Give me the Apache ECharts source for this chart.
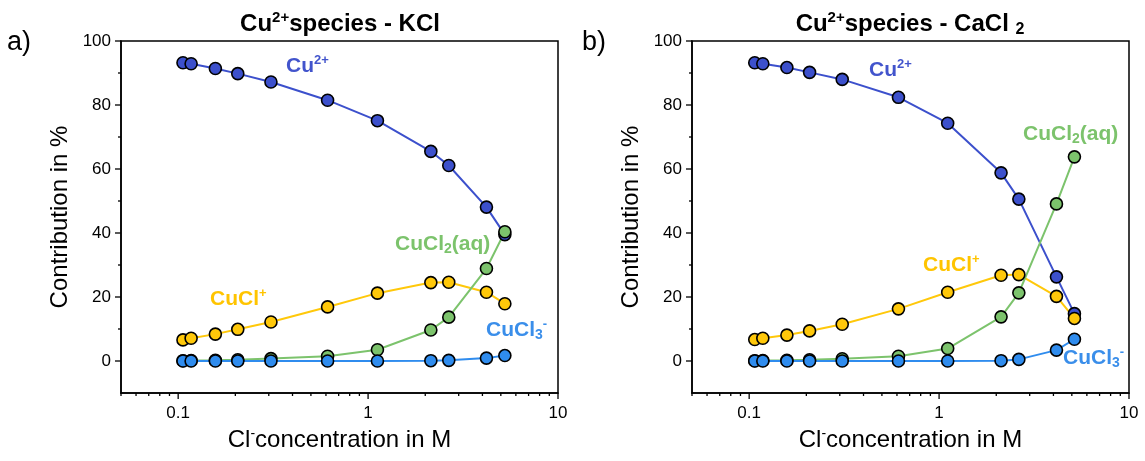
<!DOCTYPE html>
<html><head><meta charset="utf-8">
<script src="https://cdn.jsdelivr.net/npm/echarts@6/dist/echarts.min.js"></script>
<style>html,body{margin:0;padding:0;background:#fff}#c{width:1145px;height:461px}</style>
</head><body><div id="c"></div>
<script>
// ---- data ----
const concKCl   = [0.106, 0.117, 0.157, 0.206, 0.308, 0.612, 1.12, 2.14, 2.66, 4.2, 5.25];
const concCaCl2 = [0.107, 0.118, 0.158, 0.208, 0.309, 0.611, 1.11, 2.12, 2.63, 4.15, 5.16];
const kclCu     = [93.2, 92.9, 91.4, 89.8, 87.2, 81.5, 75.1, 65.5, 61.1, 48.1, 39.5];
const kclCuCl   = [6.6, 7.1, 8.4, 9.9, 12.2, 16.9, 21.2, 24.5, 24.6, 21.5, 17.9];
const kclCuCl2  = [0.1, 0.15, 0.25, 0.4, 0.75, 1.5, 3.5, 9.7, 13.7, 28.9, 40.4];
const kclCuCl3  = [0, 0, 0, 0, 0, 0, 0, 0.1, 0.2, 0.9, 1.7];
const cacl2Cu   = [93.2, 92.9, 91.7, 90.2, 88.0, 82.4, 74.3, 58.8, 50.6, 26.3, 14.8];
const cacl2CuCl = [6.7, 7.1, 8.1, 9.4, 11.5, 16.3, 21.5, 26.8, 27.0, 20.2, 13.3];
const cacl2CuCl2= [0.1, 0.15, 0.25, 0.4, 0.7, 1.5, 3.9, 13.8, 21.3, 49.1, 63.8];
const cacl2CuCl3= [0, 0, 0, 0, 0, 0, 0, 0.1, 0.5, 3.4, 6.8];
// tick values
const xMajorTicks = [0.1, 1, 10];
const xMinorTicks = [0.05,0.06,0.07,0.08,0.09,0.2,0.3,0.4,0.5,0.6,0.7,0.8,0.9,2,3,4,5,6,7,8,9];
const yMajorTicks = [0, 20, 40, 60, 80, 100];
const yMinorTicks = [10, 30, 50, 70, 90];

const X_MIN = 0.05, X_MAX = 10, Y_MIN = -10, Y_MAX = 100;
const FONT = 'Liberation Sans, Arial, sans-serif';
const C_CU = '#3c50cc', C_CUCL = '#ffc80a', C_CUCL2 = '#7cc36c', C_CUCL3 = '#2f8cee';

const chart = echarts.init(document.getElementById('c'), null, {renderer: 'canvas'});

function lineSeries(name, xs, ys, color, gi) {
  return {
    type: 'line', name, xAxisIndex: gi, yAxisIndex: gi,
    data: xs.map((v, i) => [v, ys[i]]),
    symbol: 'circle', symbolSize: 12, showAllSymbol: true,
    lineStyle: {color, width: 2},
    itemStyle: {color, borderColor: '#000', borderWidth: 1.6},
    emphasis: {disabled: true}, animation: false
  };
}
function tickSeries(gi) {
  const d = [];
  xMajorTicks.forEach(v => d.push([v, Y_MIN, 6, 0]));
  xMinorTicks.forEach(v => d.push([v, Y_MIN, 3, 0]));
  yMajorTicks.forEach(v => d.push([X_MIN, v, 6, 1]));
  yMinorTicks.forEach(v => d.push([X_MIN, v, 3, 1]));
  return {
    type: 'custom', xAxisIndex: gi, yAxisIndex: gi, silent: true, clip: false,
    data: d, animation: false, z: 1,
    renderItem(params, api) {
      const p = api.coord([api.value(0), api.value(1)]);
      const len = api.value(2), o = api.value(3);
      const shape = o === 0 ? {x1: p[0], y1: p[1], x2: p[0], y2: p[1] + len}
                            : {x1: p[0] - len, y1: p[1], x2: p[0], y2: p[1]};
      return {type: 'line', shape, style: {stroke: '#000', lineWidth: 1.3}};
    }
  };
}
const labelRich = {
  a: {fontSize: 24, lineHeight: 27, fontFamily: FONT, color: '#000'},
  s: {fontSize: 14, lineHeight: 6, verticalAlign: 'top', fontFamily: FONT, color: '#000'}
};
function xAxis(gi) {
  return {
    type: 'log', logBase: 10, gridIndex: gi, min: X_MIN, max: X_MAX,
    axisLine: {show: true, onZero: false, lineStyle: {color: '#000', width: 1.5}},
    axisTick: {show: false}, minorTick: {show: false}, splitLine: {show: false},
    axisLabel: {
      fontSize: 17, color: '#000', fontFamily: FONT, margin: 12,
      formatter: v => {
        const l = Math.log10(v);
        if (Math.abs(l - Math.round(l)) > 1e-6) return '';
        const r = Math.round(l);
        return r < 0 ? '0.1' : String(Math.pow(10, r));
      }
    },
    name: '{a|Cl}{s|-}{a|concentration in M}', nameLocation: 'middle', nameGap: 34,
    nameTextStyle: {fontSize: 24, fontFamily: FONT, color: '#000', rich: labelRich}
  };
}
function yAxis(gi) {
  return {
    type: 'value', gridIndex: gi, min: Y_MIN, max: Y_MAX, interval: 10,
    axisLine: {show: true, onZero: false, lineStyle: {color: '#000', width: 1.5}},
    axisTick: {show: false}, splitLine: {show: false},
    axisLabel: {
      fontSize: 17, color: '#000', fontFamily: FONT, margin: 10,
      formatter: v => (v >= 0 && v % 20 === 0) ? String(v) : ''
    },
    name: 'Contribution in %', nameLocation: 'middle', nameGap: 49, nameRotate: 90,
    nameTextStyle: {fontSize: 24, fontFamily: FONT, color: '#000'}
  };
}

function richText(text, x, y, opts) {
  const size = opts.size, bold = opts.bold ? 'bold' : 'normal';
  const fill = opts.color || '#000';
  return {
    type: 'text', x, y, silent: true, z: 100,
    style: {
      text, fill, align: opts.align || 'left', verticalAlign: 'middle',
      textAlign: opts.align || 'left', textVerticalAlign: 'middle',
      fontSize: size, fontWeight: bold, fontFamily: FONT,
      rich: {
        m: {fontSize: size, fontWeight: bold, fontFamily: FONT, lineHeight: size + 3, fill},
        p: {fontSize: Math.round(size * 0.62), fontWeight: bold, fontFamily: FONT, lineHeight: 6, verticalAlign: 'top', fill},
        b: {fontSize: Math.round(size * 0.68), fontWeight: bold, fontFamily: FONT, lineHeight: 10, verticalAlign: 'bottom', fill}
      }
    }
  };
}

const graphics = [
  richText('{m|Cu}{p|2+}{m|species - KCl}', 340, 24, {size: 24, bold: true, align: 'center'}),
  richText('{m|Cu}{p|2+}{m|species - CaCl }{b|2}', 910, 24, {size: 24, bold: true, align: 'center'}),
  richText('{m|a)}', 7, 43, {size: 27}),
  richText('{m|b)}', 582, 43, {size: 27}),
  // left annotations
  richText('{m|Cu}{p|2+}', 286, 66, {size: 21, bold: true, color: '#4254cc'}),
  richText('{m|CuCl}{b|2}{m|(aq)}', 395, 244, {size: 21, bold: true, color: '#7cc36c'}),
  richText('{m|CuCl}{p|+}', 210, 299, {size: 21, bold: true, color: '#ffc400'}),
  richText('{m|CuCl}{b|3}{p|-}', 486, 330, {size: 21, bold: true, color: '#3a8eea'}),
  // right annotations
  richText('{m|Cu}{p|2+}', 869, 70, {size: 21, bold: true, color: '#4254cc'}),
  richText('{m|CuCl}{b|2}{m|(aq)}', 1023, 134, {size: 21, bold: true, color: '#7cc36c'}),
  richText('{m|CuCl}{p|+}', 923, 265, {size: 21, bold: true, color: '#ffc400'}),
  richText('{m|CuCl}{b|3}{p|-}', 1063, 358, {size: 21, bold: true, color: '#3a8eea'})
];

chart.setOption({
  animation: false,
  backgroundColor: '#fff',
  grid: [
    {left: 121, top: 41, width: 437, height: 352, show: true, borderColor: '#000', borderWidth: 1.5, backgroundColor: 'transparent'},
    {left: 692, top: 41, width: 437, height: 352, show: true, borderColor: '#000', borderWidth: 1.5, backgroundColor: 'transparent'}
  ],
  xAxis: [xAxis(0), xAxis(1)],
  yAxis: [yAxis(0), yAxis(1)],
  series: [
    tickSeries(0), tickSeries(1),
    lineSeries('Cu2+', concKCl, kclCu, C_CU, 0),
    lineSeries('CuCl+', concKCl, kclCuCl, C_CUCL, 0),
    lineSeries('CuCl2(aq)', concKCl, kclCuCl2, C_CUCL2, 0),
    lineSeries('CuCl3-', concKCl, kclCuCl3, C_CUCL3, 0),
    lineSeries('Cu2+', concCaCl2, cacl2Cu, C_CU, 1),
    lineSeries('CuCl+', concCaCl2, cacl2CuCl, C_CUCL, 1),
    lineSeries('CuCl2(aq)', concCaCl2, cacl2CuCl2, C_CUCL2, 1),
    lineSeries('CuCl3-', concCaCl2, cacl2CuCl3, C_CUCL3, 1)
  ],
  graphic: graphics
});
</script>
</body></html>
